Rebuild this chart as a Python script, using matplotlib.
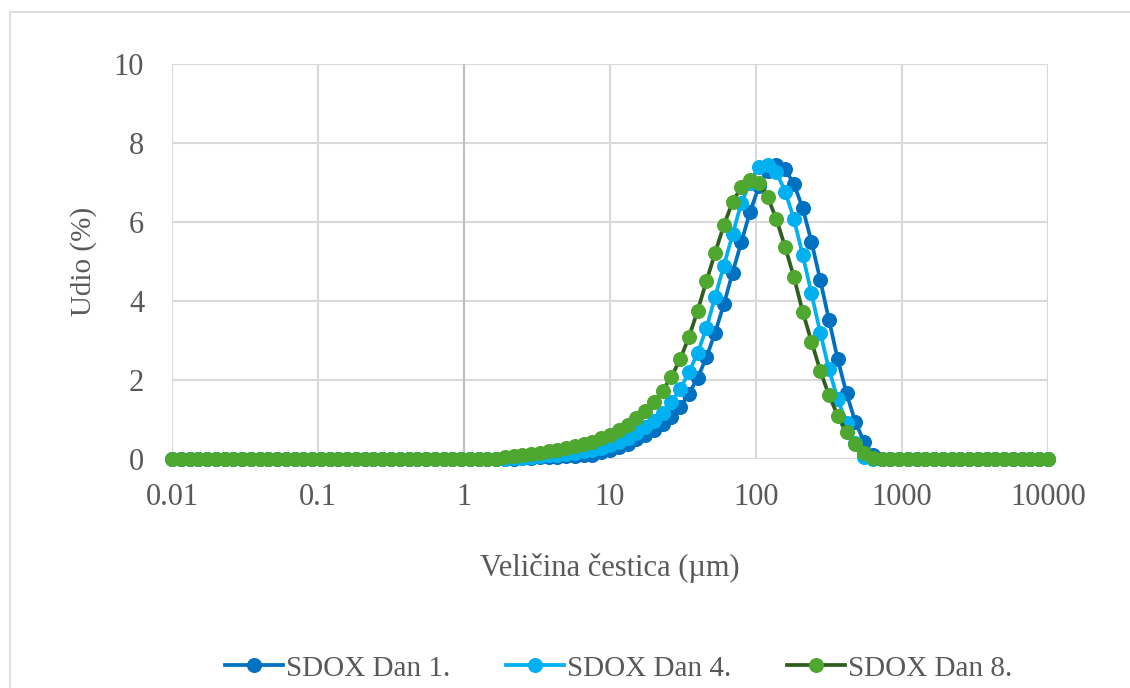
import numpy as np
import matplotlib.pyplot as plt
from matplotlib.patches import Rectangle

# size classes (um)
sizes = [0.01, 0.01148, 0.01318, 0.01514, 0.01738, 0.01995, 0.02291, 0.0263, 0.0302, 0.03467,
         0.03981, 0.04571, 0.05248, 0.06026, 0.06918, 0.07943, 0.0912, 0.1047, 0.1202, 0.138,
         0.1585, 0.182, 0.2089, 0.2399, 0.2754, 0.3162, 0.3631, 0.4169, 0.4786, 0.5495,
         0.631, 0.7244, 0.8318, 0.955, 1.096, 1.259, 1.445, 1.66, 1.905, 2.188,
         2.512, 2.884, 3.311, 3.802, 4.365, 5.012, 5.754, 6.607, 7.586, 8.71,
         10.0, 11.48, 13.18, 15.14, 17.38, 19.95, 22.91, 26.3, 30.2, 34.67,
         39.81, 45.71, 52.48, 60.26, 69.18, 79.43, 91.2, 104.7, 120.2, 138.0,
         158.5, 182.0, 208.9, 239.9, 275.4, 316.2, 363.1, 416.9, 478.6, 549.5,
         631.0, 724.4, 831.8, 955.0, 1096, 1259, 1445, 1660, 1905, 2188,
         2512, 2884, 3311, 3802, 4365, 5012, 5754, 6607, 7586, 8710, 10000]

# first classes and last classes are zero
dan1 = ([0.0] * 39 +
        [0.01, 0.02, 0.03, 0.04, 0.05, 0.06, 0.07, 0.08, 0.09, 0.11,
         0.17, 0.23, 0.30, 0.38, 0.50, 0.60, 0.74, 0.88, 1.06, 1.32,
         1.65, 2.05, 2.57, 3.20, 3.92, 4.72, 5.50, 6.26, 6.90, 7.30,
         7.45, 7.33, 6.96, 6.35, 5.50, 4.53, 3.52, 2.52, 1.66, 0.94,
         0.44, 0.10] +
        [0.0] * 20)

dan4 = ([0.0] * 38 +
        [0.01, 0.02, 0.03, 0.05, 0.07, 0.09, 0.11, 0.13, 0.16, 0.19,
         0.22, 0.27, 0.35, 0.44, 0.52, 0.65, 0.80, 0.96, 1.17, 1.44,
         1.76, 2.19, 2.68, 3.31, 4.11, 4.89, 5.69, 6.49, 7.00, 7.40,
         7.44, 7.26, 6.77, 6.07, 5.16, 4.19, 3.20, 2.27, 1.51, 0.90,
         0.40, 0.06] +
        [0.0] * 21)

dan8 = ([0.0] * 38 +
        [0.04, 0.07, 0.10, 0.13, 0.16, 0.19, 0.23, 0.27, 0.32, 0.38,
         0.44, 0.52, 0.61, 0.73, 0.86, 1.03, 1.22, 1.44, 1.73, 2.08,
         2.52, 3.08, 3.75, 4.50, 5.22, 5.92, 6.51, 6.89, 7.06, 7.00,
         6.63, 6.07, 5.36, 4.60, 3.73, 2.97, 2.24, 1.61, 1.10, 0.69,
         0.38, 0.14, 0.03] +
        [0.0] * 20)

labels = ['SDOX Dan 1.', 'SDOX Dan 4.', 'SDOX Dan 8.']
line_colors = ['#0070C0', '#00B0F0', '#2F5F1F']
marker_colors = ['#0070C0', '#00B0F0', '#4EA72E']

plt.rcParams['font.family'] = ['Liberation Serif', 'DejaVu Serif']

fig = plt.figure(figsize=(11.3, 6.88), dpi=100)
fig.patches.append(Rectangle((10 / 1130, -0.1), 1.2, 1.1 - 12 / 688, transform=fig.transFigure,
                             fill=False, edgecolor='#D9D9D9', linewidth=1.2))
ax = fig.add_axes([172 / 1130, 1 - 459 / 688, 876 / 1130, 395 / 688])

for y, lab, lc, mc in zip([dan1, dan4, dan8], labels, line_colors, marker_colors):
    ax.plot(sizes, y, color=lc, linewidth=2.7, marker='o', markersize=9.8,
            markerfacecolor=mc, markeredgecolor=mc, label=lab, clip_on=False)

ax.set_xscale('log')
ax.set_xlim(0.01, 10000)
ax.set_ylim(0, 10)
ax.set_xticks([0.01, 0.1, 1, 10, 100, 1000, 10000])
ax.set_xticklabels(['0.01', '0.1', '1', '10', '100', '1000', '10000'])
ax.set_yticks([0, 2, 4, 6, 8, 10])
ax.minorticks_off()
ax.grid(True, color='#D9D9D9', linewidth=1.5)
ax.set_axisbelow(True)
ax.axvline(1, color='#BFBFBF', linewidth=1.5, zorder=0.6)
for s in ax.spines.values():
    s.set_visible(False)
ax.tick_params(length=0, labelsize=22, labelcolor='#595959')
ax.tick_params(axis='x', pad=17)
ax.tick_params(axis='y', pad=20)

ax.set_xlabel('Veličina čestica (µm)', fontsize=22, color='#595959', labelpad=30)
ax.set_ylabel('Udio (%)', fontsize=21, color='#595959', labelpad=12)

ax.legend(loc='center', bbox_to_anchor=(0.51, -0.53), ncol=3, frameon=False, fontsize=21,
          handlelength=2.0, handletextpad=0.1, columnspacing=1.9, labelcolor='#595959')

fig.savefig('out.png', dpi=100)
